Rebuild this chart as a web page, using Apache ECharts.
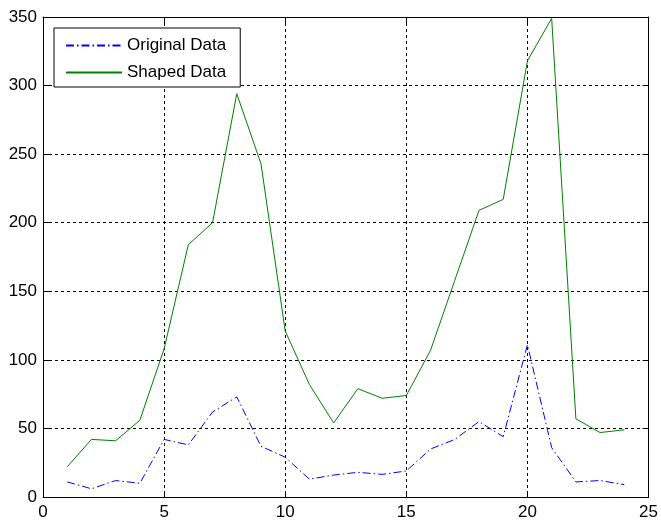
<!DOCTYPE html>
<html>
<head>
<meta charset="utf-8">
<script src="https://cdn.jsdelivr.net/npm/echarts@6/dist/echarts.min.js"></script>
<style>
html,body{margin:0;padding:0;background:#fff;}
#chart{width:661px;height:522px;}
</style>
</head>
<body>
<div id="chart"></div>
<script>
const xValues = [1,2,3,4,5,6,7,8,9,10,11,12,13,14,15,16,17,18,19,20,21,22,23,24];
const originalData = [11,6,12,10,42,38,62,73,37,29,13,16,18,16.5,19,35,42,55,44,111,36,11,12,9];
const shapedData = [22,42,41,56,108,184,200,294,243,121,82,54,79,72,74,107,158,209,217,318,349,57,47,49];
const seriesNames = ['Original Data','Shaped Data'];

const pair = (ys) => xValues.map((x,i)=>[x, ys[i]]);
const font = 'Liberation Sans, Arial, sans-serif';
const gridLine = {show:true, lineStyle:{color:'#000', type:[3,3], width:1}};

const chart = echarts.init(document.getElementById('chart'), null, {renderer:'canvas'});
chart.setOption({
  animation:false,
  backgroundColor:'#fff',
  grid:{left:43, right:7, top:17, bottom:25, containLabel:false},
  legend:{
    left:54, top:28, orient:'vertical',
    padding:[9,14,6,11],
    itemWidth:56, itemHeight:14, itemGap:10,
    backgroundColor:'#fff', borderColor:'#000', borderWidth:1, borderRadius:0,
    itemStyle:{opacity:0},
    textStyle:{fontFamily:font, fontSize:17, color:'#000'},
    data:seriesNames
  },
  xAxis:[{
    type:'value', min:0, max:25, interval:5, position:'bottom',
    axisLine:{show:true, onZero:false, lineStyle:{color:'#000', width:1}},
    axisTick:{show:true, inside:true, length:6, lineStyle:{color:'#000'}},
    axisLabel:{fontFamily:font, fontSize:17, color:'#000', margin:7},
    splitLine:gridLine
  },{
    type:'value', min:0, max:25, interval:5, position:'top',
    axisLine:{show:true, onZero:false, lineStyle:{color:'#000', width:1}},
    axisTick:{show:true, inside:true, length:6, lineStyle:{color:'#000'}},
    axisLabel:{show:false}, splitLine:{show:false}
  }],
  yAxis:[{
    type:'value', min:0, max:350, interval:50, position:'left',
    axisLine:{show:true, onZero:false, lineStyle:{color:'#000', width:1}},
    axisTick:{show:true, inside:true, length:6, lineStyle:{color:'#000'}},
    axisLabel:{fontFamily:font, fontSize:17, color:'#000', margin:6},
    splitLine:gridLine
  },{
    type:'value', min:0, max:350, interval:50, position:'right',
    axisLine:{show:true, onZero:false, lineStyle:{color:'#000', width:1}},
    axisTick:{show:true, inside:true, length:6, lineStyle:{color:'#000'}},
    axisLabel:{show:false}, splitLine:{show:false}
  }],
  series:[{
    name:seriesNames[0], type:'line', data:pair(originalData),
    symbol:'none', color:'#0000ff',
    lineStyle:{color:'#0000ff', width:1, type:[8,3,1.5,3]}
  },{
    name:seriesNames[1], type:'line', data:pair(shapedData),
    symbol:'none', color:'#008000',
    lineStyle:{color:'#008000', width:1, type:'solid'}
  }]
});
</script>
</body>
</html>
